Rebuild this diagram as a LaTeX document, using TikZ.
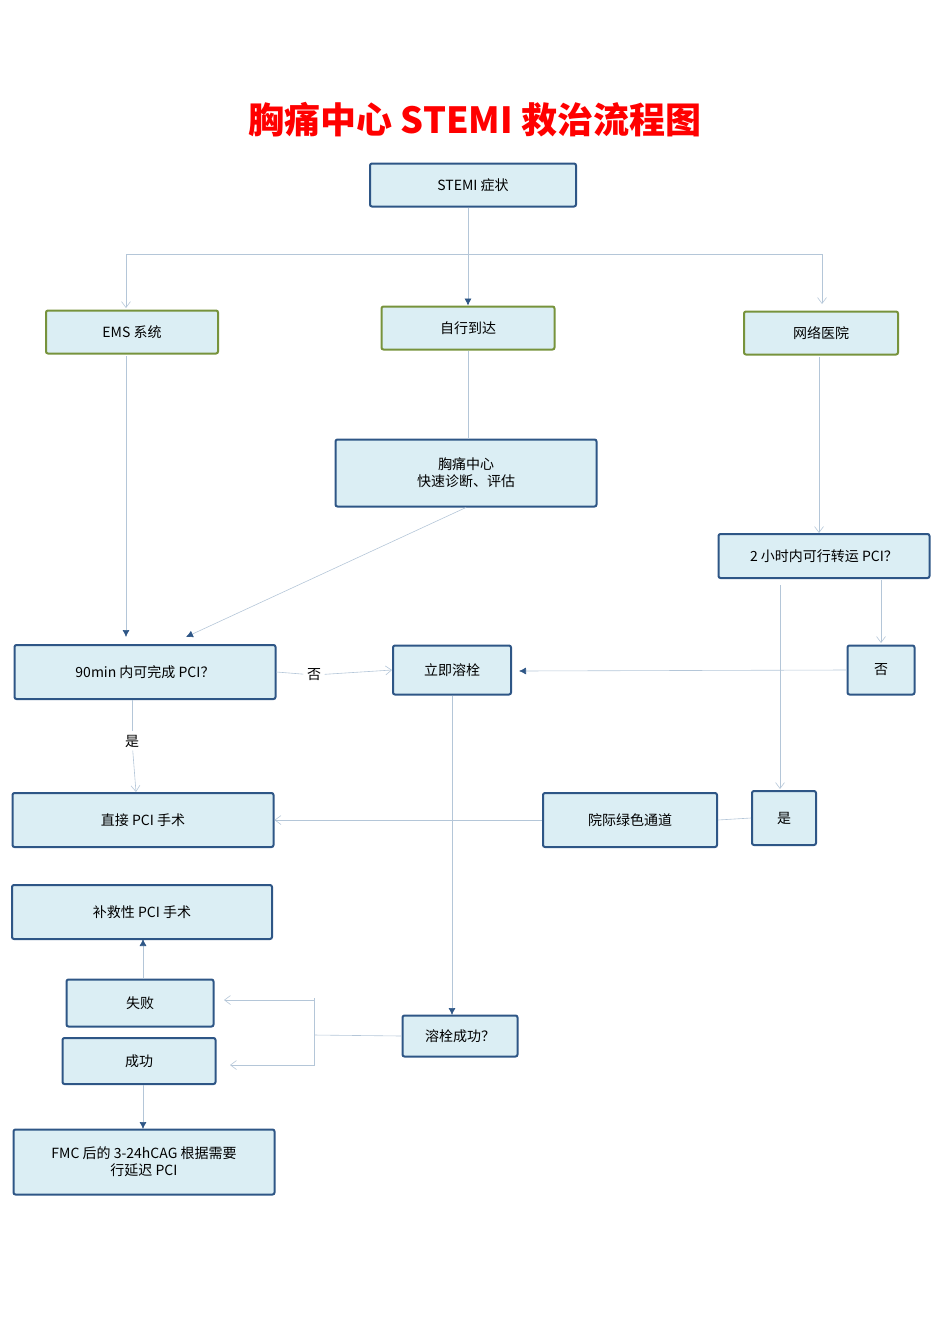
\documentclass[tikz,border=0pt]{standalone}
\usepackage{fontspec}
\setmainfont{Noto Sans CJK SC}
\usetikzlibrary{arrows.meta}
\definecolor{boxfill}{HTML}{DBEEF4}
\definecolor{boxdraw}{HTML}{2E5686}
\definecolor{grn}{HTML}{77933C}
\definecolor{ln}{HTML}{B4C6D8}
\tikzset{
 box/.style={draw=boxdraw,fill=boxfill,line width=2pt,rounded corners=2pt,align=center,font=\fontsize{14}{17}\selectfont,inner sep=0pt},
 gbox/.style={box,draw=grn},
 ln/.style={draw=ln,line width=0.6pt},
 fa/.style={ln,-{Latex[length=7pt,width=7pt,color=boxdraw]}},
 oa/.style={ln,-{Straight Barb[length=6pt,width=9pt]}},
 lbl/.style={font=\fontsize{14}{17}\selectfont}
}
\begin{document}
\begin{tikzpicture}[x=1pt,y=-1pt]
\useasboundingbox (0,0) rectangle (950,1344);
\node[text=red,font=\fontsize{36}{40}\selectfont\bfseries] (title) at (475,120) {胸痛中心 STEMI 救治流程图};
\node[box,minimum width=206pt,minimum height=43pt] (stemi) at (473,185) {STEMI 症状};
\node[gbox,minimum width=172pt,minimum height=43pt] (ems) at (132,332) {EMS 系统};
\node[gbox,minimum width=173pt,minimum height=43pt] (self) at (468,328) {自行到达};
\node[gbox,minimum width=154pt,minimum height=43pt] (net) at (821,333) {网络医院};
\node[box,minimum width=261pt,minimum height=67pt] (center) at (466,473) {胸痛中心\\快速诊断、评估};
\node[box,minimum width=211pt,minimum height=44pt] (two) at (824,556) {2 小时内可行转运 PCI？};
\node[box,minimum width=261pt,minimum height=54pt] (ninety) at (145,672) {90min 内可完成 PCI？};
\node[box,minimum width=118pt,minimum height=49pt] (lyse) at (452,670) {立即溶栓};
\node[box,minimum width=67pt,minimum height=49pt] (no2) at (881,670) {否};
\node[box,minimum width=261pt,minimum height=54pt] (pci) at (143,820) {直接 PCI 手术};
\node[box,minimum width=174pt,minimum height=54pt] (green) at (630,820) {院际绿色通道};
\node[box,minimum width=64pt,minimum height=54pt] (yes2) at (784,818) {是};
\node[box,minimum width=260pt,minimum height=54pt] (rescue) at (142,912) {补救性 PCI 手术};
\node[box,minimum width=147pt,minimum height=47pt] (fail) at (140,1003) {失败};
\node[box,minimum width=153pt,minimum height=46pt] (succ) at (139,1061) {成功};
\node[box,minimum width=115pt,minimum height=41pt] (ok) at (460,1036) {溶栓成功？};
\node[box,minimum width=261pt,minimum height=65pt] (fmc) at (144,1162) {FMC 后的 3-24hCAG 根据需要\\行延迟 PCI};
\node[lbl] (nolbl) at (314,675) {否};
\node[lbl] (yeslbl) at (132,741) {是};
\coordinate (h1) at (126,254);
\coordinate (h2) at (822,254);
\coordinate (j) at (314,1035);
\draw[fa] (stemi.south -| self) -- (self.north);
\draw[ln] (h1) -- (h2);
\draw[oa] (h1) -- (126,308);
\draw[oa] (h2) -- (822,304);
\draw[fa] (126,356) -- (126,637);
\draw[ln] (self.south) -- (center.north -| self);
\draw[fa] (center.south) -- (186,637);
\draw[oa] (819,357) -- (819,533);
\draw[oa] (881,580) -- (881,643);
\draw[oa] (780,585) -- (780,789);
\draw[ln] (ninety.east) -- (nolbl);
\draw[oa] (nolbl) -- (lyse.west);
\draw[fa] (no2.west) -- (519,671);
\draw[ln] (132,700) -- (yeslbl);
\draw[oa] (yeslbl) -- (136,792);
\draw[ln] (yes2.west) -- (green.east);
\draw[oa] (green.west) -- (pci.east);
\draw[fa] (lyse.south) -- (452,1015);
\draw[ln] (ok.west) -- (j);
\draw[ln] (314,998) -- (314,1066);
\draw[oa] (314,1000) -- (224,1000);
\draw[oa] (314,1065) -- (230,1065);
\draw[fa] (fail.north -| 143,0) -- (143,939);
\draw[fa] (succ.south -| 143,0) -- (143,1129);
\end{tikzpicture}
\end{document}
